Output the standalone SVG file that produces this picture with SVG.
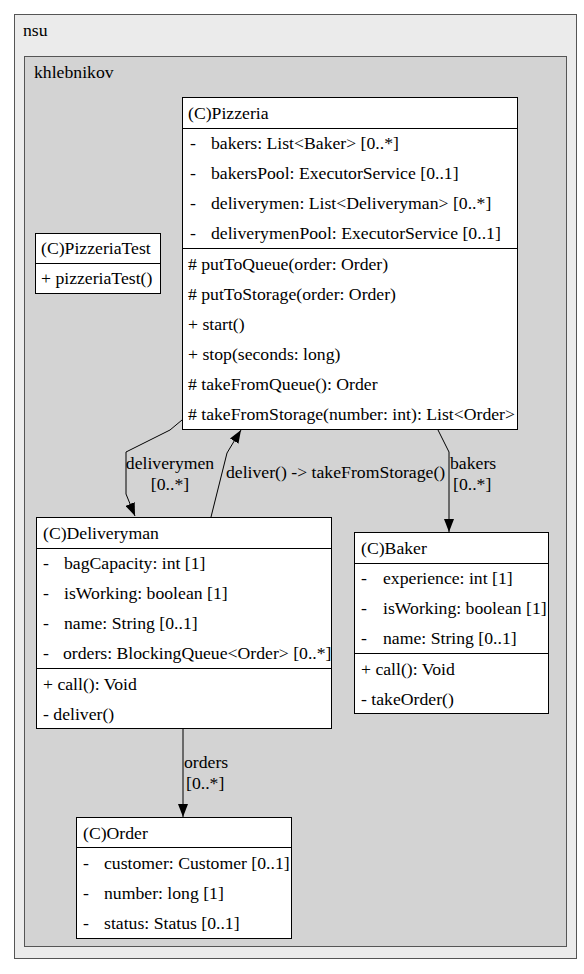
<svg xmlns="http://www.w3.org/2000/svg" width="584" height="974" viewBox="0 0 584 974">
<defs>
<style>
text{font-family:"Liberation Serif","Times New Roman",serif;font-size:17.7px;fill:#000}
.box{fill:#fff;stroke:#000;stroke-width:1}
.sep{stroke:#000;stroke-width:1}
.edge{fill:none;stroke:#000;stroke-width:1}
</style>
<marker id="arr" viewBox="0 0 13 10" refX="13" refY="5" markerWidth="13" markerHeight="10" markerUnits="userSpaceOnUse" orient="auto">
<path d="M0,0 L13,5 L0,10 z" fill="#000"/>
</marker>
</defs>
<rect width="584" height="974" fill="#fff"/>
<g id="cluster_nsu">
<rect x="14.5" y="14.5" width="562" height="944" fill="#ebebeb" stroke="#555"/>
<text x="23" y="36">nsu</text>
</g>
<g id="cluster_khlebnikov">
<rect x="24.5" y="56.5" width="542" height="890" fill="#d3d3d3" stroke="#555"/>
<text x="34" y="78">khlebnikov</text>
</g>
<g id="edges">
<path class="edge" d="M182,420 L170,430 L126,452 L126,494 L135,516" marker-end="url(#arr)"/>
<text x="170" y="469" text-anchor="middle">deliverymen</text>
<text x="170" y="490" text-anchor="middle">[0..*]</text>
<path class="edge" d="M211,517 L227,453 L233,443 L241,430" marker-end="url(#arr)"/>
<text x="226" y="478">deliver() -&gt; takeFromStorage()</text>
<path class="edge" d="M438,430 L449,452 L449,532" marker-end="url(#arr)"/>
<text x="450" y="469">bakers</text>
<text x="453" y="490">[0..*]</text>
<path class="edge" d="M183,729 L183,817" marker-end="url(#arr)"/>
<text x="184" y="768">orders</text>
<text x="186" y="789">[0..*]</text>
</g>
<g id="Pizzeria">
<rect class="box" x="182.5" y="97.5" width="335" height="332"/>
<line class="sep" x1="182.5" y1="128.5" x2="517.5" y2="128.5"/>
<line class="sep" x1="182.5" y1="248.5" x2="517.5" y2="248.5"/>
<text x="188" y="119">(C)Pizzeria</text>
<text x="190" y="149">-</text><text x="211" y="149">bakers: List&lt;Baker&gt; [0..*]</text>
<text x="190" y="179">-</text><text x="211" y="179">bakersPool: ExecutorService [0..1]</text>
<text x="190" y="209">-</text><text x="211" y="209">deliverymen: List&lt;Deliveryman&gt; [0..*]</text>
<text x="190" y="239">-</text><text x="211" y="239">deliverymenPool: ExecutorService [0..1]</text>
<text x="188" y="270"># putToQueue(order: Order)</text>
<text x="188" y="300"># putToStorage(order: Order)</text>
<text x="188" y="330">+ start()</text>
<text x="188" y="360">+ stop(seconds: long)</text>
<text x="188" y="390"># takeFromQueue(): Order</text>
<text x="188" y="420"># takeFromStorage(number: int): List&lt;Order&gt;</text>
</g>
<g id="PizzeriaTest">
<rect class="box" x="35.5" y="233.5" width="125" height="60"/>
<line class="sep" x1="35.5" y1="263.5" x2="160.5" y2="263.5"/>
<text x="41" y="254">(C)PizzeriaTest</text>
<text x="41" y="284">+ pizzeriaTest()</text>
</g>
<g id="Deliveryman">
<rect class="box" x="36.5" y="517.5" width="295" height="211"/>
<line class="sep" x1="36.5" y1="548.5" x2="331.5" y2="548.5"/>
<line class="sep" x1="36.5" y1="668.5" x2="331.5" y2="668.5"/>
<text x="43" y="539">(C)Deliveryman</text>
<text x="43" y="569">-</text><text x="64" y="569">bagCapacity: int [1]</text>
<text x="43" y="599">-</text><text x="64" y="599">isWorking: boolean [1]</text>
<text x="43" y="629">-</text><text x="64" y="629">name: String [0..1]</text>
<text x="43" y="659">-</text><text x="63" y="659">orders: BlockingQueue&lt;Order&gt; [0..*]</text>
<text x="43" y="690">+ call(): Void</text>
<text x="43" y="720">- deliver()</text>
</g>
<g id="Baker">
<rect class="box" x="354.5" y="532.5" width="194" height="181"/>
<line class="sep" x1="354.5" y1="563.5" x2="548.5" y2="563.5"/>
<line class="sep" x1="354.5" y1="653.5" x2="548.5" y2="653.5"/>
<text x="361" y="554">(C)Baker</text>
<text x="361" y="584">-</text><text x="383" y="584">experience: int [1]</text>
<text x="361" y="614">-</text><text x="383" y="614">isWorking: boolean [1]</text>
<text x="361" y="644">-</text><text x="383" y="644">name: String [0..1]</text>
<text x="361" y="675">+ call(): Void</text>
<text x="361" y="705">- takeOrder()</text>
</g>
<g id="Order">
<rect class="box" x="76.5" y="817.5" width="215" height="121"/>
<line class="sep" x1="76.5" y1="847.5" x2="291.5" y2="847.5"/>
<text x="83" y="839">(C)Order</text>
<text x="83" y="869">-</text><text x="104" y="869">customer: Customer [0..1]</text>
<text x="83" y="899">-</text><text x="104" y="899">number: long [1]</text>
<text x="83" y="929">-</text><text x="104" y="929">status: Status [0..1]</text>
</g>
</svg>
